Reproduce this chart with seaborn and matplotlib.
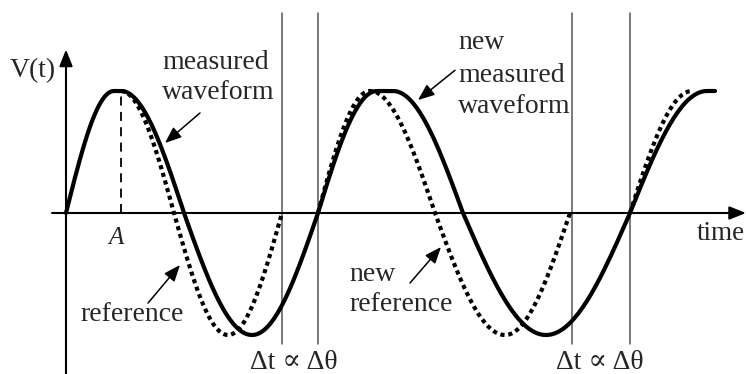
import numpy as np
import pandas as pd
import matplotlib
matplotlib.use('Agg')
import matplotlib.pyplot as plt
import seaborn as sns

sns.set_style('white')
plt.rcParams['font.family'] = ['Liberation Serif', 'DejaVu Serif']

# key points of the waveforms: time of each zero / peak / trough and the level there
meas_t = [0, 48, 55, 118, 186, 252, 311, 327, 397, 480, 564, 641, 649]
meas_v = [0, 1, 1, 0, -1, 0, 1, 1, 0, -1, 0, 1, 1]

# reference (dotted), three separate pieces
ref1_t = [55, 108, 162, 216]
ref1_v = [1, 0, -1, 0]
ref2_t = [252, 304, 369, 439, 504]
ref2_v = [0, 1, 0, -1, 0]
ref3_t = [564, 626]
ref3_v = [0, 1]

# vertical marker lines (time)
marks_t = [216, 252, 506, 564]
A_t = 55


def wave(ts, vs, n=40):
    # quarter-sine arc between consecutive key points
    xs, ys = [], []
    for (t0, v0), (t1, v1) in zip(zip(ts[:-1], vs[:-1]), zip(ts[1:], vs[1:])):
        s = np.linspace(0, 1, n)
        if v0 == v1:
            f = s
        elif abs(v0) < abs(v1):
            f = np.sin(np.pi * s / 2)
        else:
            f = 1 - np.cos(np.pi * s / 2)
        xs.extend(t0 + (t1 - t0) * s)
        ys.extend(v0 + (v1 - v0) * f)
    return pd.DataFrame({'t': xs, 'v': ys})


fig = plt.figure(figsize=(7.46, 3.74), dpi=100)
ax = fig.add_axes([0, 0, 1, 1])

# marker lines
for t in marks_t:
    ax.plot([t, t], [-1.07, 1.64], color='#555555', lw=1.1, zorder=1)
ax.plot([A_t, A_t], [0, 1], color='black', lw=1.3, linestyle=(0, (5, 3.5)), zorder=1)

# axes with arrows
head = '-|>,head_length=1.0,head_width=0.4'
ax.annotate('', xy=(0, 1.34), xytext=(0, -1.33),
            arrowprops=dict(arrowstyle=head, color='black', lw=1.5,
                            shrinkA=0, shrinkB=0), annotation_clip=False)
ax.annotate('', xy=(680, 0), xytext=(-14, 0),
            arrowprops=dict(arrowstyle=head, color='black', lw=1.5,
                            shrinkA=0, shrinkB=0), annotation_clip=False)

# curves
sns.lineplot(data=wave(meas_t, meas_v), x='t', y='v', sort=False, estimator=None,
             color='black', lw=3.0, ax=ax, zorder=3)
for ts, vs in [(ref1_t, ref1_v), (ref2_t, ref2_v), (ref3_t, ref3_v)]:
    sns.lineplot(data=wave(ts, vs), x='t', y='v', sort=False, estimator=None,
                 color='black', lw=3.0, linestyle=(0, (1, 0.9)), ax=ax, zorder=2)
ax.set_xlim(-66, 680)
ax.set_ylim(-1.3197, 1.7459)
ax.axis('off')

fs = 20
ax.text(-33, 1.17, 'V(t)', fontsize=fs, ha='center', va='center')
ax.text(96, 1.23, 'measured', fontsize=fs, ha='left', va='center')
ax.text(96, 0.99, 'waveform', fontsize=fs, ha='left', va='center')
ax.text(392, 1.40, 'new', fontsize=fs, ha='left', va='center')
ax.text(392, 1.13, 'measured', fontsize=fs, ha='left', va='center')
ax.text(392, 0.87, 'waveform', fontsize=fs, ha='left', va='center')
ax.text(14, -0.836, 'reference', fontsize=fs, ha='left', va='center')
ax.text(283, -0.508, 'new', fontsize=fs, ha='left', va='center')
ax.text(283, -0.754, 'reference', fontsize=fs, ha='left', va='center')
ax.text(228, -1.225, 'Δt ∝ Δθ', fontsize=fs, ha='center', va='center')
ax.text(534, -1.225, 'Δt ∝ Δθ', fontsize=fs, ha='center', va='center')
ax.text(631, -0.172, 'time', fontsize=19.5, ha='left', va='center')
ax.text(50, -0.205, 'A', fontsize=18, ha='center', va='center', style='italic')

# pointer arrows
arrows = [((134, 0.82), (99, 0.574)),
          ((389, 1.17), (352, 0.926)),
          ((82, -0.738), (114, -0.426)),
          ((344, -0.574), (375, -0.279))]
for start, tip in arrows:
    ax.annotate('', xy=tip, xytext=start,
                arrowprops=dict(arrowstyle=head, color='black',
                                lw=1.1, shrinkA=0, shrinkB=0))

fig.savefig('out.png', dpi=100)
